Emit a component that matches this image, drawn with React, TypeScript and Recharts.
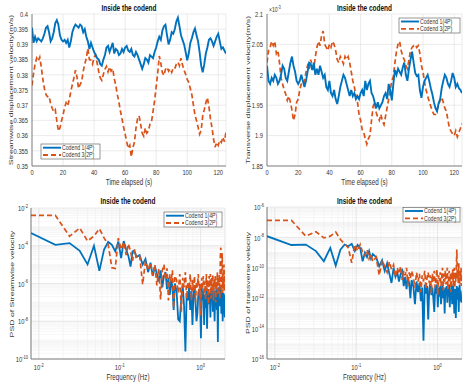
import React from 'react';
import { LineChart, Line, XAxis, YAxis, CartesianGrid } from 'recharts';

// ---------------- data ----------------
const TIME_S = Array.from({ length: 126 }, (_, i) => i); // 0..125 s, 1 s step

const STREAM_C1 = [
  0.3955, 0.3905, 0.3925, 0.391, 0.392, 0.3915, 0.391, 0.392, 0.3935, 0.3955,
  0.396, 0.394, 0.391, 0.392, 0.394, 0.397, 0.398, 0.3965, 0.393, 0.3915,
  0.391, 0.3915, 0.3905, 0.3915, 0.389, 0.391, 0.394, 0.3955, 0.3965, 0.396,
  0.3955, 0.3965, 0.396, 0.394, 0.395, 0.3925, 0.391, 0.3885, 0.3905, 0.389,
  0.3875, 0.3865, 0.3855, 0.385, 0.3835, 0.383, 0.385, 0.3865, 0.389, 0.3895,
  0.3875, 0.389, 0.3905, 0.387, 0.3885, 0.388, 0.3865, 0.387, 0.3885, 0.3875,
  0.389, 0.3895, 0.388, 0.3875, 0.3885, 0.3865, 0.386, 0.3875, 0.3865, 0.385,
  0.3835, 0.382, 0.3835, 0.3855, 0.385, 0.384, 0.3865, 0.386, 0.3855, 0.3875,
  0.389, 0.391, 0.3925, 0.3915, 0.3945, 0.396, 0.3965, 0.393, 0.39, 0.3915,
  0.394, 0.3935, 0.395, 0.3975, 0.3988, 0.396, 0.393, 0.3915, 0.39, 0.3875,
  0.3848, 0.387, 0.3905, 0.392, 0.394, 0.3952, 0.393, 0.391, 0.3875, 0.383,
  0.3808, 0.3835, 0.387, 0.389, 0.3915, 0.392, 0.391, 0.3895, 0.391, 0.3925,
  0.3935, 0.391, 0.3885, 0.389, 0.388, 0.387,
];
const STREAM_C3 = [
  0.3765, 0.3805, 0.3835, 0.3855, 0.3845, 0.3858, 0.3825, 0.3785, 0.3755, 0.3735,
  0.3728, 0.373, 0.3705, 0.369, 0.3678, 0.3685, 0.3648, 0.3615, 0.3625, 0.3648,
  0.3668, 0.3692, 0.3708, 0.3698, 0.3718, 0.3745, 0.3768, 0.379, 0.3815, 0.3792,
  0.3755, 0.3768, 0.3778, 0.3812, 0.3835, 0.3855, 0.3887, 0.385, 0.3848, 0.3835,
  0.3858, 0.3865, 0.3838, 0.381, 0.379, 0.3782, 0.3802, 0.3818, 0.3828, 0.381,
  0.3826, 0.3812, 0.382, 0.3788, 0.3765, 0.3735, 0.371, 0.368, 0.3655, 0.3628,
  0.3605, 0.358, 0.3558, 0.3568, 0.353, 0.356, 0.3578, 0.3625, 0.3655, 0.3665,
  0.3638, 0.3608, 0.3598, 0.3625, 0.3608, 0.3615, 0.3638, 0.3645, 0.368, 0.3715,
  0.376, 0.3805, 0.3862, 0.3838, 0.3808, 0.3798, 0.3818, 0.3825, 0.3812, 0.382,
  0.3808, 0.3822, 0.382, 0.3835, 0.3842, 0.383, 0.3855, 0.3832, 0.3815, 0.3802,
  0.3785, 0.3775, 0.3755, 0.3735, 0.37, 0.3668, 0.365, 0.3628, 0.3605, 0.3618,
  0.3665, 0.3685, 0.3708, 0.3725, 0.3695, 0.3655, 0.3625, 0.3588, 0.3562, 0.3578,
  0.3568, 0.3585, 0.3578, 0.3595, 0.358, 0.3612,
];

// transverse values in units of 1e-3 m/s
const TRANS_C1 = [
  2.015, 1.99, 1.985, 1.995, 1.99, 2.0, 1.995, 1.985, 1.99, 2.0,
  2.015, 2.01, 1.995, 1.99, 2.005, 2.02, 2.03, 2.015, 2.005, 1.99,
  1.985, 1.99, 2.0, 1.99, 1.98, 1.99, 2.005, 2.02, 2.018, 2.008,
  2.02, 2.0, 2.01, 2.0, 2.015, 2.005, 1.995, 2.0, 1.98, 1.975,
  1.99, 1.97, 1.965, 1.975, 1.96, 1.952, 1.965, 1.98, 1.99, 2.0,
  1.995, 1.985, 1.975, 1.965, 1.975, 1.965, 1.97, 1.96, 1.965, 1.96,
  1.97, 1.975, 1.965, 1.99, 1.975, 1.985, 1.99, 1.97, 1.965, 1.955,
  1.945, 1.955, 1.945, 1.95, 1.955, 1.965, 1.97, 1.96, 1.985, 1.975,
  1.958, 1.985, 2.008, 2.0, 2.01, 2.005, 2.0, 2.012, 2.02, 2.0,
  1.99, 2.01, 2.025, 2.038, 2.02, 2.003, 1.998, 2.0, 1.975, 1.962,
  1.98, 1.99, 1.995, 2.0, 1.99, 1.978, 1.968, 1.955, 1.945, 1.94,
  1.953, 1.96, 1.978, 1.99, 2.0, 1.995, 1.985, 1.98, 1.99, 2.003,
  1.995, 1.98, 1.985, 1.978, 1.975, 1.97,
];
const TRANS_C3 = [
  2.02, 2.04, 2.045, 2.055, 2.048, 2.055, 2.035, 2.04, 2.02, 1.995,
  1.985, 1.975, 1.968, 1.958, 1.965, 1.955, 1.942, 1.925, 1.935, 1.955,
  1.96, 1.975, 1.985, 1.99, 1.988, 2.005, 2.015, 2.008, 2.025, 2.015,
  2.01, 2.03, 2.045, 2.055, 2.048, 2.065, 2.072, 2.05, 2.045, 2.04,
  2.05, 2.045, 2.055, 2.05, 2.04, 2.025, 2.02, 2.03, 2.025, 2.018,
  2.03, 2.025, 2.03, 2.02, 2.005, 1.99, 1.98, 1.965, 1.955, 1.935,
  1.925, 1.91, 1.905, 1.895, 1.886, 1.895, 1.9, 1.925, 1.948, 1.955,
  1.938, 1.93, 1.925, 1.935, 1.924, 1.918, 1.932, 1.946, 1.96, 1.975,
  1.99, 1.997, 2.02, 2.039, 2.05, 2.055, 2.04, 2.03, 2.025, 2.015,
  2.01, 2.025, 2.04, 2.045, 2.048, 2.05, 2.045, 2.048, 2.035, 2.015,
  2.005, 1.988, 1.975, 1.965, 1.956, 1.948, 1.94, 1.935, 1.935, 1.942,
  1.95, 1.958, 1.963, 1.955, 1.945, 1.94, 1.925, 1.912, 1.907, 1.903,
  1.9, 1.908, 1.898, 1.905, 1.912, 1.92,
];

// frequency bins (bin index k, f = k * 0.008 Hz)
const FREQ_RES = 0.008;
const BINS = [
  1, 2, 3, 4, 5, 6, 7, 8, 9, 10, 11, 12, 13, 14, 15, 16, 17, 18, 19, 20,
  22, 24, 26, 28, 30, 32, 34, 36, 38, 40, 42, 44, 46, 48, 50, 52, 54, 56, 58, 60,
  63, 66, 69, 72, 75, 78, 81, 84, 87, 90, 93, 96, 99, 102, 105, 108, 111, 114, 117, 120,
  123, 126, 129, 132, 135, 138, 141, 144, 147, 150, 153, 156, 159, 162, 165, 168, 171, 174, 177, 180,
  183, 186, 189, 192, 195, 198, 201, 204, 207, 210, 213, 216, 219, 222, 225, 228, 231, 234, 237, 240,
  243, 246, 249,
];
// PSD values as log10 exponents
const PSD_STREAM_C1 = [
  -3.33, -3.95, -3.86, -4.27, -4.99, -4.0, -5.33, -4.2, -3.8, -3.95, -4.3, -3.77, -4.65, -3.75, -4.2, -4.55, -5.1, -4.3, -4.25, -4.6,
  -4.5, -5.0, -4.7, -5.4, -4.9, -5.6, -5.1, -5.5, -5.9, -5.3, -6.2, -5.6, -5.4, -6.3, -5.7, -6.6, -5.8, -6.2, -7.4, -6.0,
  -6.4, -7.9, -8.0, -6.8, -6.1, -7.2, -9.6, -6.5, -6.9, -6.2, -7.4, -6.4, -8.2, -6.6, -6.1, -7.0, -8.0, -7.6, -6.5, -6.3,
  -6.8, -8.9, -6.2, -6.9, -6.4, -8.2, -6.6, -7.3, -6.2, -8.4, -6.7, -6.3, -7.1, -6.5, -7.8, -6.3, -6.9, -6.4, -7.5, -6.2,
  -6.8, -8.0, -6.4, -6.9, -6.3, -7.4, -6.5, -9.1, -6.6, -6.2, -7.2, -6.4, -7.0, -6.1, -7.6, -6.5, -6.9, -8.0, -7.3, -6.5,
  -7.0, -6.6, -7.8,
];
const PSD_STREAM_C3 = [
  -2.39, -2.39, -3.5, -3.06, -3.75, -3.49, -3.1, -3.58, -3.95, -5.17, -5.2, -3.6, -4.2, -3.8, -4.5, -3.9, -4.3, -4.8, -4.2, -4.6,
  -4.5, -6.05, -4.8, -5.3, -4.9, -5.6, -5.0, -6.1, -5.2, -6.85, -5.3, -5.0, -5.8, -5.2, -6.9, -5.5, -5.9, -5.3, -7.3, -5.6,
  -5.8, -6.5, -5.5, -7.5, -5.7, -6.2, -5.4, -6.8, -5.9, -6.3, -5.5, -6.9, -5.8, -6.4, -5.6, -7.0, -5.9, -6.2, -5.5, -6.7,
  -6.0, -7.7, -5.7, -6.3, -5.6, -6.6, -5.9, -6.9, -5.5, -6.4, -5.8, -7.1, -5.6, -6.2, -5.5, -6.8, -5.7, -6.4, -5.5, -6.9,
  -5.8, -6.2, -5.6, -7.0, -5.9, -6.3, -5.4, -6.6, -5.7, -6.0, -5.5, -6.8, -4.6, -4.1, -6.2, -5.4, -4.4, -6.5, -5.6, -6.1,
  -5.0, -6.4, -5.6,
];
const PSD_TRANS_C1 = [
  -7.92, -8.5, -8.47, -8.9, -9.57, -8.69, -9.85, -8.8, -8.47, -8.58, -8.42, -8.9, -8.5, -8.7, -9.57, -9.0, -9.3, -8.9, -9.4, -9.1,
  -9.3, -9.9, -9.5, -10.2, -9.7, -10.4, -11.0, -10.0, -10.6, -10.3, -10.9, -10.4, -10.2, -11.2, -10.6, -11.4, -10.7, -11.0, -12.0, -10.8,
  -11.2, -12.4, -10.9, -11.6, -11.0, -12.2, -11.3, -14.8, -11.1, -11.7, -11.2, -13.4, -11.4, -11.0, -11.8, -11.3, -12.0, -12.9, -11.2, -11.7,
  -11.1, -12.6, -11.3, -11.9, -11.2, -12.4, -11.5, -11.1, -12.0, -11.4, -13.0, -11.3, -11.8, -11.2, -12.3, -11.4, -11.9, -11.1, -12.6, -11.5,
  -11.8, -11.2, -12.4, -11.6, -11.1, -11.9, -13.0, -11.4, -11.8, -13.3, -11.5, -11.2, -12.1, -11.3, -11.9, -12.9, -11.4, -11.1, -12.2, -11.5,
  -11.8, -12.3, -12.1,
];
const PSD_TRANS_C3 = [
  -6.88, -6.88, -7.92, -7.63, -8.03, -7.92, -7.65, -8.14, -8.42, -8.69, -9.68, -8.47, -8.9, -8.47, -9.0, -9.2, -8.8, -9.4, -9.1, -9.6,
  -9.3, -10.5, -9.5, -9.9, -10.3, -9.6, -10.1, -9.8, -10.6, -10.0, -10.4, -9.9, -10.8, -10.2, -10.5, -10.0, -11.2, -10.3, -10.7, -10.2,
  -10.6, -11.3, -10.3, -10.9, -10.4, -11.6, -10.5, -10.9, -10.2, -11.4, -10.6, -10.3, -11.0, -10.5, -11.7, -10.4, -10.9, -10.2, -11.3, -10.6,
  -10.1, -11.8, -10.5, -10.9, -10.3, -11.2, -10.6, -10.0, -11.5, -10.4, -10.9, -10.2, -11.1, -10.5, -10.0, -11.4, -10.6, -10.2, -11.0, -10.4,
  -11.6, -10.3, -10.8, -10.1, -11.2, -10.5, -10.0, -11.3, -10.4, -10.9, -9.9, -8.8, -10.7, -10.2, -11.0, -9.7, -10.4, -11.1, -10.2, -10.8,
  -10.0, -11.2, -10.6,
];

const TIME_TICKS = [0, 20, 40, 60, 80, 100, 120];
const STREAM_TICKS = [0.35, 0.355, 0.36, 0.365, 0.37, 0.375, 0.38, 0.385, 0.39, 0.395, 0.4];
const TRANS_TICKS = [1.85, 1.9, 1.95, 2, 2.05, 2.1];
const FREQ_TICKS = [0.01, 0.1, 1];
const PSD_STREAM_TICKS = [1e-10, 1e-8, 1e-6, 1e-4, 1e-2];
const PSD_TRANS_TICKS = [1e-16, 1e-14, 1e-12, 1e-10, 1e-8, 1e-6];

const SERIES_NAMES = ['Codend 1(4P)', 'Codend 3(2P)'];

// ---------------- style ----------------
const FONT = '"Liberation Sans", Arial, Helvetica, sans-serif';
const SX = 0.72;
const BLUE = '#0072BD';
const ORANGE = '#D95319';
const TXT = '#333333';
const AX = '#555555';
const GRID = '#dedede';
const MINOR = '#ececec';

const timeStream = TIME_S.map((t, i) => ({ t, c1: STREAM_C1[i], c3: STREAM_C3[i] }));
const timeTrans = TIME_S.map((t, i) => ({ t, c1: TRANS_C1[i], c3: TRANS_C3[i] }));
const psdStream = BINS.map((k, i) => ({ f: k * FREQ_RES, c1: Math.pow(10, PSD_STREAM_C1[i]), c3: Math.pow(10, PSD_STREAM_C3[i]) }));
const psdTrans = BINS.map((k, i) => ({ f: k * FREQ_RES, c1: Math.pow(10, PSD_TRANS_C1[i]), c3: Math.pow(10, PSD_TRANS_C3[i]) }));

function minorLog(lo: number, hi: number, min: number, max: number) {
  const out: number[] = [];
  for (let e = lo; e <= hi; e++) {
    for (let m = 1; m <= 9; m++) {
      const v = m * Math.pow(10, e);
      if (v >= min * 0.999 && v <= max * 1.001) out.push(v);
    }
  }
  return out;
}
const MINOR_F = minorLog(-3, 0, 0.008, 2);
const MINOR_PSD_STREAM = minorLog(-10, -3, 1e-10, 1e-2);
const MINOR_PSD_TRANS = minorLog(-16, -7, 1e-16, 1e-6);

function applyScale(axis: any, v: number) {
  const s = axis && axis.scale;
  if (!s) return NaN;
  if (typeof s === 'function') return s(v);
  if (typeof s.map === 'function') return s.map(v);
  return NaN;
}
const genX = (vals: number[]) => (p: any) => vals.map((v) => applyScale(p.xAxis, v)).filter((n) => Number.isFinite(n));
const genY = (vals: number[]) => (p: any) => vals.map((v) => applyScale(p.yAxis, v)).filter((n) => Number.isFinite(n));

function SText(props: any) {
  const { x, y, children, anchor = 'middle', size = 8, weight = 'normal', rotate = false, fill = TXT } = props;
  const tf = `translate(${x},${y}) scale(${SX},1)` + (rotate ? ' rotate(-90)' : '');
  return (
    <text transform={tf} textAnchor={anchor} fontSize={size} fontWeight={weight} fontFamily={FONT} fill={fill}>
      {children}
    </text>
  );
}

const LinXTick = (p: any) => <SText x={p.x} y={p.y + 8.5} size={8}>{String(p.payload.value)}</SText>;
const LinYTick = (p: any) => <SText x={p.x} y={p.y + 2.8} anchor="end" size={8}>{String(p.payload.value)}</SText>;
const LogXTick = (p: any) => {
  const e = Math.round(Math.log10(p.payload.value));
  return (
    <text transform={`translate(${p.x},${p.y + 11}) scale(${SX},1)`} textAnchor="middle" fontSize={8} fontFamily={FONT} fill={TXT}>
      10<tspan dy={-3.5} fontSize={5.5}>{String(e)}</tspan>
    </text>
  );
};
const LogYTick = (p: any) => {
  const e = Math.round(Math.log10(p.payload.value));
  return (
    <text transform={`translate(${p.x},${p.y + 3.2}) scale(${SX},1)`} textAnchor="end" fontSize={8} fontFamily={FONT} fill={TXT}>
      10<tspan dy={-3.5} fontSize={5.5}>{String(e)}</tspan>
    </text>
  );
};

const axisLine = { stroke: AX, strokeWidth: 0.7 };

function TimePanel(props: any) {
  const { data, yTicks, yDomain, yw, right, top } = props;
  return (
    <LineChart width={237} height={195} data={data} margin={{ top, right, left: 0, bottom: 0 }}>
      <CartesianGrid stroke={GRID} strokeWidth={0.6} />
      <XAxis dataKey="t" type="number" domain={[0, 125]} ticks={TIME_TICKS} allowDataOverflow height={29}
        tickSize={0} tickMargin={0} tickLine={false} axisLine={axisLine} tick={LinXTick} interval={0} />
      <YAxis type="number" domain={yDomain} ticks={yTicks} allowDataOverflow width={yw}
        tickSize={0} tickMargin={4} tickLine={false} axisLine={axisLine} tick={LinYTick} interval={0} />
      <XAxis xAxisId="top" orientation="top" type="number" domain={[0, 1]} height={0} tick={false} tickLine={false} axisLine={axisLine} />
      <YAxis yAxisId="right" orientation="right" type="number" domain={[0, 1]} width={0} tick={false} tickLine={false} axisLine={axisLine} />
      <Line dataKey="c3" stroke={ORANGE} strokeWidth={1.7} strokeDasharray="5 3" dot={false} isAnimationActive={false} />
      <Line dataKey="c1" stroke={BLUE} strokeWidth={1.9} dot={false} isAnimationActive={false} />
    </LineChart>
  );
}

function PsdPanel(props: any) {
  const { data, yTicks, yDomain, yMinor, yw, right, top } = props;
  return (
    <LineChart width={237} height={195} data={data} margin={{ top, right, left: 0, bottom: 0 }}>
      <CartesianGrid stroke={MINOR} strokeWidth={0.5}
        verticalCoordinatesGenerator={genX(MINOR_F)} horizontalCoordinatesGenerator={genY(yMinor)} />
      <CartesianGrid stroke={GRID} strokeWidth={0.6} />
      <XAxis dataKey="f" type="number" scale="log" domain={[0.008, 2]} ticks={FREQ_TICKS} allowDataOverflow height={31}
        tickSize={0} tickMargin={0} tickLine={false} axisLine={axisLine} tick={LogXTick} interval={0} />
      <YAxis type="number" scale="log" domain={yDomain} ticks={yTicks} allowDataOverflow width={yw}
        tickSize={0} tickMargin={3} tickLine={false} axisLine={axisLine} tick={LogYTick} interval={0} />
      <XAxis xAxisId="top" orientation="top" type="number" domain={[0, 1]} height={0} tick={false} tickLine={false} axisLine={axisLine} />
      <YAxis yAxisId="right" orientation="right" type="number" domain={[0, 1]} width={0} tick={false} tickLine={false} axisLine={axisLine} />
      <Line dataKey="c1" stroke={BLUE} strokeWidth={1.8} dot={false} isAnimationActive={false} />
      <Line dataKey="c3" stroke={ORANGE} strokeWidth={1.7} strokeDasharray="5 3" dot={false} isAnimationActive={false} />
    </LineChart>
  );
}

function LegendBox(props: any) {
  const { x, y, w, h, r1, r2 } = props;
  return (
    <g>
      <rect x={x} y={y} width={w} height={h} fill="#ffffff" stroke="#333" strokeWidth={0.5} />
      <line x1={x + 2} x2={x + 20} y1={r1} y2={r1} stroke={BLUE} strokeWidth={1.9} />
      <line x1={x + 2} x2={x + 20} y1={r2} y2={r2} stroke={ORANGE} strokeWidth={1.8} strokeDasharray="5 3" />
      <SText x={x + 21} y={r1 + 2.4} anchor="start" size={7.2}>{SERIES_NAMES[0]}</SText>
      <SText x={x + 21} y={r2 + 2.4} anchor="start" size={7.2}>{SERIES_NAMES[1]}</SText>
    </g>
  );
}

export default function App() {
  return (
    <div style={{ position: 'absolute', left: 0, top: 0, width: 474, height: 390, background: '#fff', overflow: 'hidden' }}>
      <div style={{ position: 'absolute', left: 0, top: 0 }}>
        <TimePanel data={timeStream} yTicks={STREAM_TICKS} yDomain={[0.35, 0.4]} yw={32} right={11} top={14} />
      </div>
      <div style={{ position: 'absolute', left: 237, top: 0 }}>
        <TimePanel data={timeTrans} yTicks={TRANS_TICKS} yDomain={[1.85, 2.1]} yw={30} right={12} top={14} />
      </div>
      <div style={{ position: 'absolute', left: 0, top: 195 }}>
        <PsdPanel data={psdStream} yTicks={PSD_STREAM_TICKS} yDomain={[1e-10, 1e-2]} yMinor={MINOR_PSD_STREAM} yw={31} right={12} top={13} />
      </div>
      <div style={{ position: 'absolute', left: 237, top: 195 }}>
        <PsdPanel data={psdTrans} yTicks={PSD_TRANS_TICKS} yDomain={[1e-16, 1e-6]} yMinor={MINOR_PSD_TRANS} yw={30} right={12} top={12} />
      </div>
      <svg width={474} height={390} style={{ position: 'absolute', left: 0, top: 0, pointerEvents: 'none' }}>
        <SText x={129} y={10.5} size={9} weight="bold" fill="#111">Inside the codend</SText>
        <SText x={364.5} y={10.5} size={9} weight="bold" fill="#111">Inside the codend</SText>
        <SText x={128} y={204} size={9} weight="bold" fill="#111">Inside the codend</SText>
        <SText x={364.5} y={204} size={9} weight="bold" fill="#111">Inside the codend</SText>

        <SText x={129} y={185} size={8.7}>Time elapsed (s)</SText>
        <SText x={364.5} y={185} size={8.7}>Time elapsed (s)</SText>
        <SText x={128} y={380} size={8.7}>Frequency (Hz)</SText>
        <SText x={364.5} y={380} size={8.7}>Frequency (Hz)</SText>

        <SText x={12.5} y={90} size={8.7} rotate>Streamwise displacement velocity(m/s)</SText>
        <SText x={249.5} y={90} size={8.7} rotate>Transverse displacement velocity(m/s)</SText>
        <SText x={13.5} y={284} size={8.7} rotate>PSD of Streamwise velocity</SText>
        <SText x={250} y={283} size={8.7} rotate>PSD of transverse velocity</SText>

        <text transform={`translate(269,11.5) scale(${SX},1)`} fontSize={7} fontFamily={FONT} fill={TXT}>
          ×10<tspan dy={-3} fontSize={5}>-3</tspan>
        </text>

        <LegendBox x={41} y={144} w={59} h={15} r1={147.7} r2={155} />
        <LegendBox x={399} y={18} w={61} h={15} r1={21.5} r2={28.8} />
        <LegendBox x={164} y={212} w={58} h={15} r1={215.7} r2={223} />
        <LegendBox x={403} y={207.5} w={57} h={14.5} r1={211} r2={218.3} />
      </svg>
    </div>
  );
}
